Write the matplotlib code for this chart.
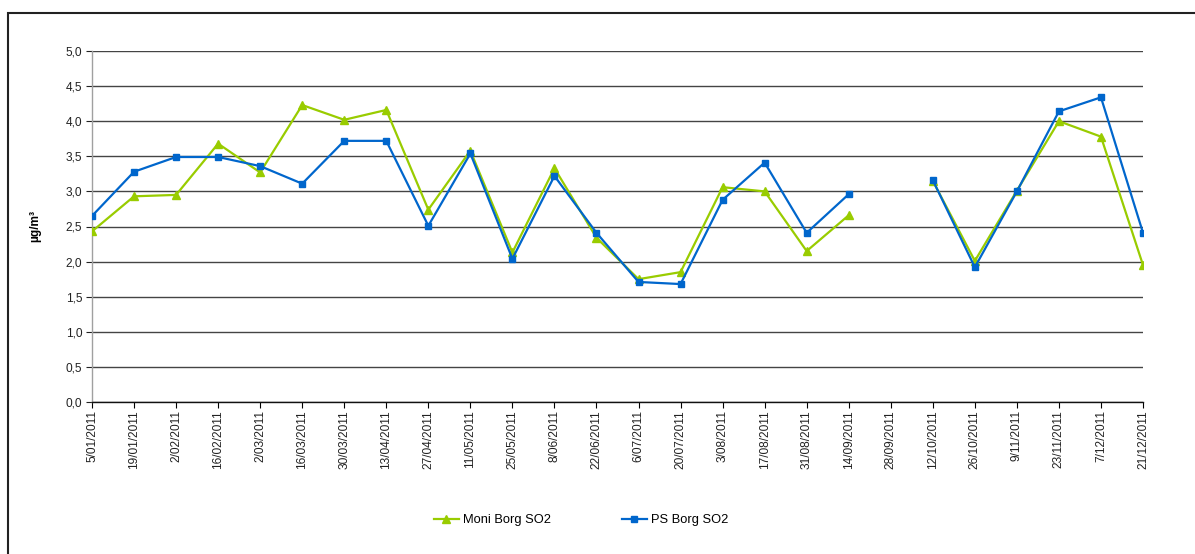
import numpy as np
import matplotlib
matplotlib.use("Agg")
import matplotlib.pyplot as plt
from matplotlib.patches import Rectangle
from matplotlib.ticker import FuncFormatter, MultipleLocator

plt.rcParams['font.family'] = ['Liberation Sans', 'DejaVu Sans']

dates = ["5/01/2011", "19/01/2011", "2/02/2011", "16/02/2011", "2/03/2011",
         "16/03/2011", "30/03/2011", "13/04/2011", "27/04/2011", "11/05/2011",
         "25/05/2011", "8/06/2011", "22/06/2011", "6/07/2011", "20/07/2011",
         "3/08/2011", "17/08/2011", "31/08/2011", "14/09/2011", "28/09/2011",
         "12/10/2011", "26/10/2011", "9/11/2011", "23/11/2011", "7/12/2011",
         "21/12/2011"]

moni_borg = [2.43, 2.93, 2.95, 3.68, 3.27, 4.23, 4.02, 4.16, 2.74, 3.58,
             2.13, 3.33, 2.34, 1.75, 1.85, 3.06, 3.00, 2.15, 2.66, np.nan,
             3.15, 2.01, 3.01, 4.00, 3.78, 1.95]

ps_borg = [2.65, 3.28, 3.49, 3.49, 3.36, 3.11, 3.72, 3.72, 2.51, 3.54,
           2.04, 3.22, 2.41, 1.71, 1.68, 2.88, 3.41, 2.41, 2.96, np.nan,
           3.16, 1.92, 3.00, 4.14, 4.34, 2.41]

W, H = 1195, 554
fig = plt.figure(figsize=(W / 100, H / 100), dpi=100)

# chart frame (top and left edges visible)
fig.patches.append(Rectangle((8 / W, -0.05), 1.2, (H - 13) / H + 0.05,
                             transform=fig.transFigure, fill=False,
                             edgecolor='#222222', linewidth=1.5))

ax = fig.add_axes([92 / W, 1 - 402 / H, (1143 - 92) / W, (402 - 51) / H])

x = np.arange(len(dates))
ax.plot(x, moni_borg, color='#99CC00', linewidth=1.6, marker='^',
        markersize=6, label='Moni Borg SO2', zorder=3)
ax.plot(x, ps_borg, color='#0066CC', linewidth=1.6, marker='s',
        markersize=5, label='PS Borg SO2', zorder=4)

ax.set_xlim(0, len(dates) - 1)
ax.set_ylim(0, 5.0)
ax.yaxis.set_major_locator(MultipleLocator(0.5))
ax.yaxis.set_major_formatter(FuncFormatter(lambda v, p: f"{v:.1f}".replace('.', ',')))
ax.set_xticks(x)
ax.set_xticklabels(dates, rotation=90, fontsize=8.6, color='#222222')
ax.tick_params(axis='y', labelsize=8.6, colors='#222222', length=4, width=0.8,
               direction='out', pad=3)
ax.tick_params(axis='x', length=4, width=0.8, direction='out', pad=2)

ax.grid(axis='y', color='#444444', linewidth=1.0)
ax.set_axisbelow(True)
for s in ('top', 'right'):
    ax.spines[s].set_visible(False)
ax.spines['left'].set_color('#a0a0a0')
ax.spines['left'].set_linewidth(1.0)
ax.spines['bottom'].set_color('#111111')
ax.spines['bottom'].set_linewidth(1.0)

fig.text(35 / W, 1 - 226 / H, 'µg/m³', rotation=90, fontsize=8.6,
         fontweight='bold', ha='center', va='center')

fig.legend(loc='center', bbox_to_anchor=(581 / W, 1 - 520 / H), ncol=2,
           frameon=False, fontsize=9.3, handlelength=1.95, handletextpad=0.3,
           columnspacing=5.5)

fig.savefig('out.png', dpi=100)
